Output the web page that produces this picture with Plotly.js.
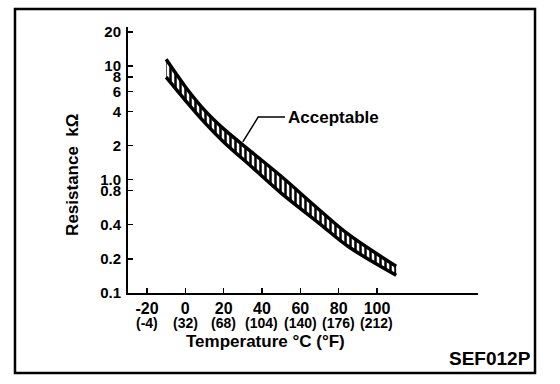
<!DOCTYPE html>
<html>
<head>
<meta charset="utf-8">
<script src="https://cdn.plot.ly/plotly-3.0.1.min.js"></script>
<style>html,body{margin:0;padding:0;background:#fff;}#chart{width:560px;height:384px;}</style>
</head>
<body>
<div id="chart"></div>
<script>
// Data
var temperatureC = [-10, 0, 10, 20, 35, 50, 70, 85, 110];
var upperKOhm   = [11.5, 6.6, 4.1, 2.8, 1.73, 1.07, 0.54, 0.33, 0.172];
var lowerKOhm   = [8.0, 5.0, 3.2, 2.15, 1.28, 0.76, 0.41, 0.257, 0.1435];

var xTickC = [-20, 0, 20, 40, 60, 80, 100];
var xTickLabels = ['-20', '0', '20', '40', '60', '80', '100'];
var xTickF = ['(-4)', '(32)', '(68)', '(104)', '(140)', '(176)', '(212)'];

var yTickVals = [0.1, 0.2, 0.4, 0.8, 1.0, 2, 4, 6, 8, 10, 20];
var yTickLabels = ['0.1', '0.2', '0.4', '0.8', '1.0', '2', '4', '6', '8', '10', '20'];

var leaderC = [30, 38, 52];
var leaderKOhm = [2.15, 3.56, 3.56];

var FONT = 'Liberation Sans, Arial, Helvetica, sans-serif';

var traces = [
  {
    x: temperatureC, y: lowerKOhm, type: 'scatter', mode: 'lines',
    line: {color: '#000', width: 3.5, shape: 'spline'},
    hoverinfo: 'skip', showlegend: false
  },
  {
    x: temperatureC, y: upperKOhm, type: 'scatter', mode: 'lines',
    line: {color: '#000', width: 3.5, shape: 'spline'},
    fill: 'tonexty', fillcolor: '#fff',
    fillpattern: {shape: '|', fgcolor: '#000', bgcolor: '#fff', size: 5, solidity: 0.5},
    hoverinfo: 'skip', showlegend: false
  },
  {
    x: leaderC, y: leaderKOhm, type: 'scatter', mode: 'lines',
    line: {color: '#000', width: 1.5},
    hoverinfo: 'skip', showlegend: false
  }
];

var annotations = [];
for (var i = 0; i < xTickC.length; i++) {
  annotations.push({
    x: xTickC[i], xref: 'x', y: 0, yref: 'paper', yshift: -30,
    text: xTickF[i], showarrow: false, xanchor: 'center', yanchor: 'middle',
    font: {family: FONT, size: 14, color: '#000', weight: 'bold'}
  });
}
annotations.push({
  x: leaderC[2] + 0.5, xref: 'x', y: Math.log10(leaderKOhm[2]), yref: 'y',
  text: 'Acceptable', showarrow: false, xanchor: 'left', yanchor: 'middle',
  font: {family: FONT, size: 17, color: '#000', weight: 'bold'}
});
annotations.push({
  x: 42, xref: 'x', y: 0, yref: 'paper', yshift: -48,
  text: 'Temperature °C (°F)', showarrow: false, xanchor: 'center', yanchor: 'middle',
  font: {family: FONT, size: 17, color: '#000', weight: 'bold'}
});
annotations.push({
  x: 0, xref: 'paper', xshift: -55, y: 0.444, yref: 'paper',
  text: 'Resistance  kΩ', showarrow: false, textangle: -90,
  xanchor: 'center', yanchor: 'middle',
  font: {family: FONT, size: 17, color: '#000', weight: 'bold'}
});
annotations.push({
  x: 1.157, xref: 'paper', y: -0.245, yref: 'paper',
  text: 'SEF012P', showarrow: false, xanchor: 'right', yanchor: 'middle',
  font: {family: FONT, size: 19, color: '#000', weight: 'bold'}
});

var layout = {
  width: 560, height: 384,
  margin: {l: 128, r: 82, t: 27, b: 91, pad: 0},
  paper_bgcolor: '#fff', plot_bgcolor: '#fff',
  showlegend: false,
  xaxis: {
    range: [-29.9, 152.7], showgrid: false, zeroline: false,
    showline: true, linecolor: '#000', linewidth: 2,
    ticks: 'inside', ticklen: 5, tickwidth: 1.5, tickcolor: '#000',
    tickmode: 'array', tickvals: xTickC, ticktext: xTickLabels,
    tickfont: {family: FONT, size: 16, color: '#000', weight: 'bold'},
    ticklabelstandoff: 0,
    fixedrange: true
  },
  yaxis: {
    type: 'log', range: [-1, 1.346], showgrid: false, zeroline: false,
    showline: true, linecolor: '#000', linewidth: 2,
    ticks: 'inside', ticklen: 5, tickwidth: 1.5, tickcolor: '#000',
    tickmode: 'array', tickvals: yTickVals, ticktext: yTickLabels,
    tickfont: {family: FONT, size: 15, color: '#000', weight: 'bold'},
    ticklabelstandoff: 2,
    fixedrange: true
  },
  annotations: annotations,
  shapes: [{
    type: 'rect', xref: 'paper', yref: 'paper',
    x0: -0.3229, x1: 1.1629, y0: -0.3008, y1: 1.0677,
    line: {color: '#000', width: 2.5}, fillcolor: 'rgba(0,0,0,0)'
  }]
};

Plotly.newPlot('chart', traces, layout, {staticPlot: true, displayModeBar: false});
</script>
</body>
</html>
